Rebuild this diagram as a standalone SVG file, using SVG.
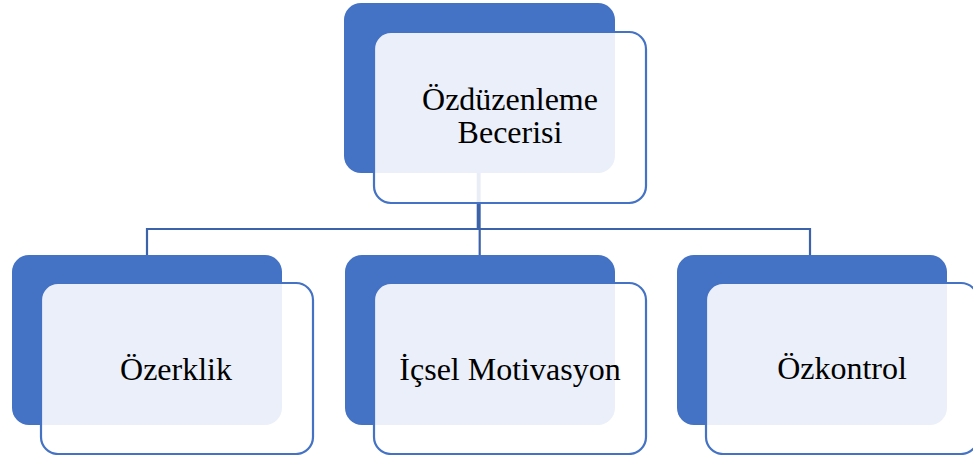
<svg xmlns="http://www.w3.org/2000/svg" width="973" height="455" viewBox="0 0 973 455">
  <style>
    .back { fill: #4472C4; }
    .front { fill: #FFFFFF; fill-opacity: 0.89; stroke: #4472C4; stroke-width: 2.2; }
    .label { font-family: "Liberation Serif", "Times New Roman", serif; font-size: 32px; fill: #000000; text-anchor: middle; }
    .link { stroke: #3C62AA; stroke-width: 2.2; fill: none; }
  </style>
  <rect width="973" height="455" fill="#FFFFFF"/>

  <!-- connectors -->
  <g id="connectors">
    <line class="link" x1="478.7" y1="173" x2="478.7" y2="229" style="stroke-width:4"/>
    <polyline class="link" points="147,255 147,229 810,229 810,255"/>
    <line class="link" x1="479.7" y1="229" x2="479.7" y2="255"/>
  </g>

  <!-- root -->
  <g id="node-root">
    <rect class="back" x="344" y="3" width="271" height="170" rx="17"/>
    <rect class="front" x="374" y="32" width="272" height="171" rx="17"/>
    <text class="label" x="510" y="110">Özdüzenleme</text>
    <text class="label" x="510" y="143">Becerisi</text>
  </g>

  <g id="node-ozerklik">
    <rect class="back" x="12" y="255" width="270" height="170" rx="17"/>
    <rect class="front" x="41" y="283" width="272" height="171" rx="17"/>
    <text class="label" x="176" y="380">Özerklik</text>
  </g>

  <g id="node-icsel">
    <rect class="back" x="345" y="255" width="270" height="170" rx="17"/>
    <rect class="front" x="374" y="283" width="272" height="171" rx="17"/>
    <text class="label" x="510" y="380">İçsel Motivasyon</text>
  </g>

  <g id="node-ozkontrol">
    <rect class="back" x="677" y="255" width="270" height="170" rx="17"/>
    <rect class="front" x="706" y="283" width="272" height="171" rx="17"/>
    <text class="label" x="842" y="379">Özkontrol</text>
  </g>
</svg>
